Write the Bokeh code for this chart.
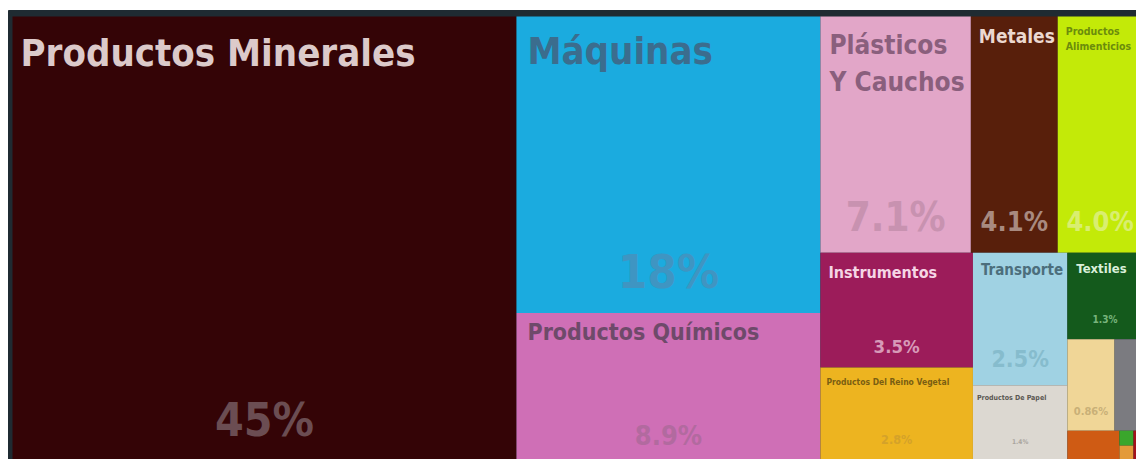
from bokeh.plotting import figure
from bokeh.models import Range1d, ColumnDataSource
from bokeh.core.properties import value
from bokeh.embed import file_html
from bokeh.resources import INLINE

# ---- data ----
names = ["Productos Minerales", "Máquinas", "Productos Químicos", "Plásticos Y Cauchos",
         "Metales", "Productos Alimenticios", "Instrumentos", "Productos Del Reino Vegetal",
         "Transporte", "Productos De Papel", "Textiles", "Piedra Y Vidrio", "Diversos",
         "Calzado Y Sombreros", "Productos Animales", "Productos De Madera", "Metales Preciosos"]
shares = [44.6, 18.0, 8.9, 7.1, 4.1, 4.0, 3.5, 2.8, 2.5, 1.4, 1.3, 0.86, 0.51, 0.30, 0.042, 0.039, 0.052]
pct_labels = ["45%", "18%", "8.9%", "7.1%", "4.1%", "4.0%", "3.5%", "2.8%", "2.5%", "1.4%",
              "1.3%", "0.86%", "", "", "", "", ""]
title_labels = ["Productos Minerales", "Máquinas", "Productos Químicos", "Plásticos\nY Cauchos",
                "Metales", "Productos\nAlimenticios", "Instrumentos", "Productos Del Reino Vegetal",
                "Transporte", "Productos De Papel", "Textiles", "", "", "", "", "", ""]

# ---- styles ----
tile_colors = ["#340406", "#1babdf", "#cf6fb6", "#e2a6c8", "#581f0b", "#c3ea08", "#9c1c5a",
               "#edb420", "#a0d2e3", "#dcd8d1", "#145a1c", "#f0d697", "#7b7b80", "#cf5b14",
               "#3aa62c", "#e39a3a", "#a3121c"]
title_colors = ["#dccaca", "#3b6d8e", "#6e4a6a", "#8a5f7d", "#ecd8d0", "#6b8c0c", "#f5d5e5",
                "#7a5e12", "#4c6e7c", "#5a5752", "#d9efd9"]
pct_colors = ["#6b4d52", "#3f95c2", "#b26a9f", "#c892b0", "#a88a80", "#d9ee70", "#d79ab8",
              "#d4a22a", "#86bccd", "#aaa69f", "#78b47c", "#c9b077"]
title_sizes = [38, 38, 23, 26, 19, 10.5, 16, 8.5, 15, 7, 13]
title_capoff = [22, 20, 11, 19, 12, 11, 13, 11, 11, 10, 11]
title_padx = [8, 11, 11, 9, 8, 8, 8, 6, 8, 4, 9]
title_lh = [1.2, 1.2, 1.2, 1.22, 1.2, 1.2, 1.2, 1.2, 1.2, 1.2, 1.2]
pct_sizes = [46, 47, 27, 40, 27, 27, 18.5, 12.5, 23, 6.5, 10, 11]
pct_pad = [24, 25, 14, 22, 22, 22, 14, 16, 18, 15, 16, 15]
# layout structure: (number of tiles, orientation)
groups = [(1, "col"), (2, "col"), (3, "row"), (2, "col"), (2, "col"), (1, "row"),
          (2, "row"), (1, "col"), (2, "col"), (1, "col")]

FONT = "'DejaVu Sans Condensed', 'DejaVu Sans', sans-serif"

W, H = 1136, 459
OX, OY, TW, TH = 12, 16, 1130, 443


def layout(vals, groups, x0, y0, w, h):
    rects = []
    i = 0
    remaining = sum(vals)
    for n, orient in groups:
        g = vals[i:i + n]
        s = sum(g)
        if orient == "col":
            gw = w * s / remaining
            yy = y0
            for v in g:
                hh = h * v / s
                rects.append((x0, yy, x0 + gw, yy + hh))
                yy += hh
            x0 += gw
            w -= gw
        else:
            gh = h * s / remaining
            xx = x0
            for v in g:
                ww = w * v / s
                rects.append((xx, y0, xx + ww, y0 + gh))
                xx += ww
            y0 += gh
            h -= gh
        remaining -= s
        i += n
    return rects


rects = layout(shares, groups, OX, OY, TW, TH)

p = figure(width=W, height=H, x_range=Range1d(0, W), y_range=Range1d(H, 0),
           output_backend="svg", toolbar_location=None, min_border=0,
           x_axis_location=None, y_axis_location=None, outline_line_color=None,
           background_fill_color="white", border_fill_color="white")
p.grid.visible = False

p.quad(left=[8], right=[W], top=[10], bottom=[H], color="#1f2b32")

tiles = ColumnDataSource(dict(
    left=[r[0] for r in rects], right=[r[2] for r in rects],
    top=[r[1] for r in rects], bottom=[r[3] for r in rects],
    color=tile_colors, name=names))
p.quad(left="left", right="right", top="top", bottom="bottom", fill_color="color",
       line_color=None, source=tiles)

nt = len(title_sizes)
tsrc = ColumnDataSource(dict(
    x=[rects[i][0] + title_padx[i] for i in range(nt)],
    y=[rects[i][1] + title_capoff[i] - 0.2 * title_sizes[i] for i in range(nt)],
    text=title_labels[:nt],
    size=[f"{s}px" for s in title_sizes],
    lh=title_lh,
    color=title_colors))
p.text(x="x", y="y", text="text", text_font_size="size", text_color="color",
       text_font=value(FONT), text_font_style="bold", text_baseline="top",
       text_align="left", text_line_height="lh", source=tsrc)

npc = len(pct_sizes)
psrc = ColumnDataSource(dict(
    x=[(rects[i][0] + rects[i][2]) / 2 for i in range(npc)],
    y=[rects[i][3] - pct_pad[i] - 0.93 * pct_sizes[i] for i in range(npc)],
    text=pct_labels[:npc],
    size=[f"{s}px" for s in pct_sizes],
    color=pct_colors))
p.text(x="x", y="y", text="text", text_font_size="size", text_color="color",
       text_font=value(FONT), text_font_style="bold", text_baseline="top",
       text_align="center", source=psrc)

open("out.html", "w").write(file_html(p, INLINE))
